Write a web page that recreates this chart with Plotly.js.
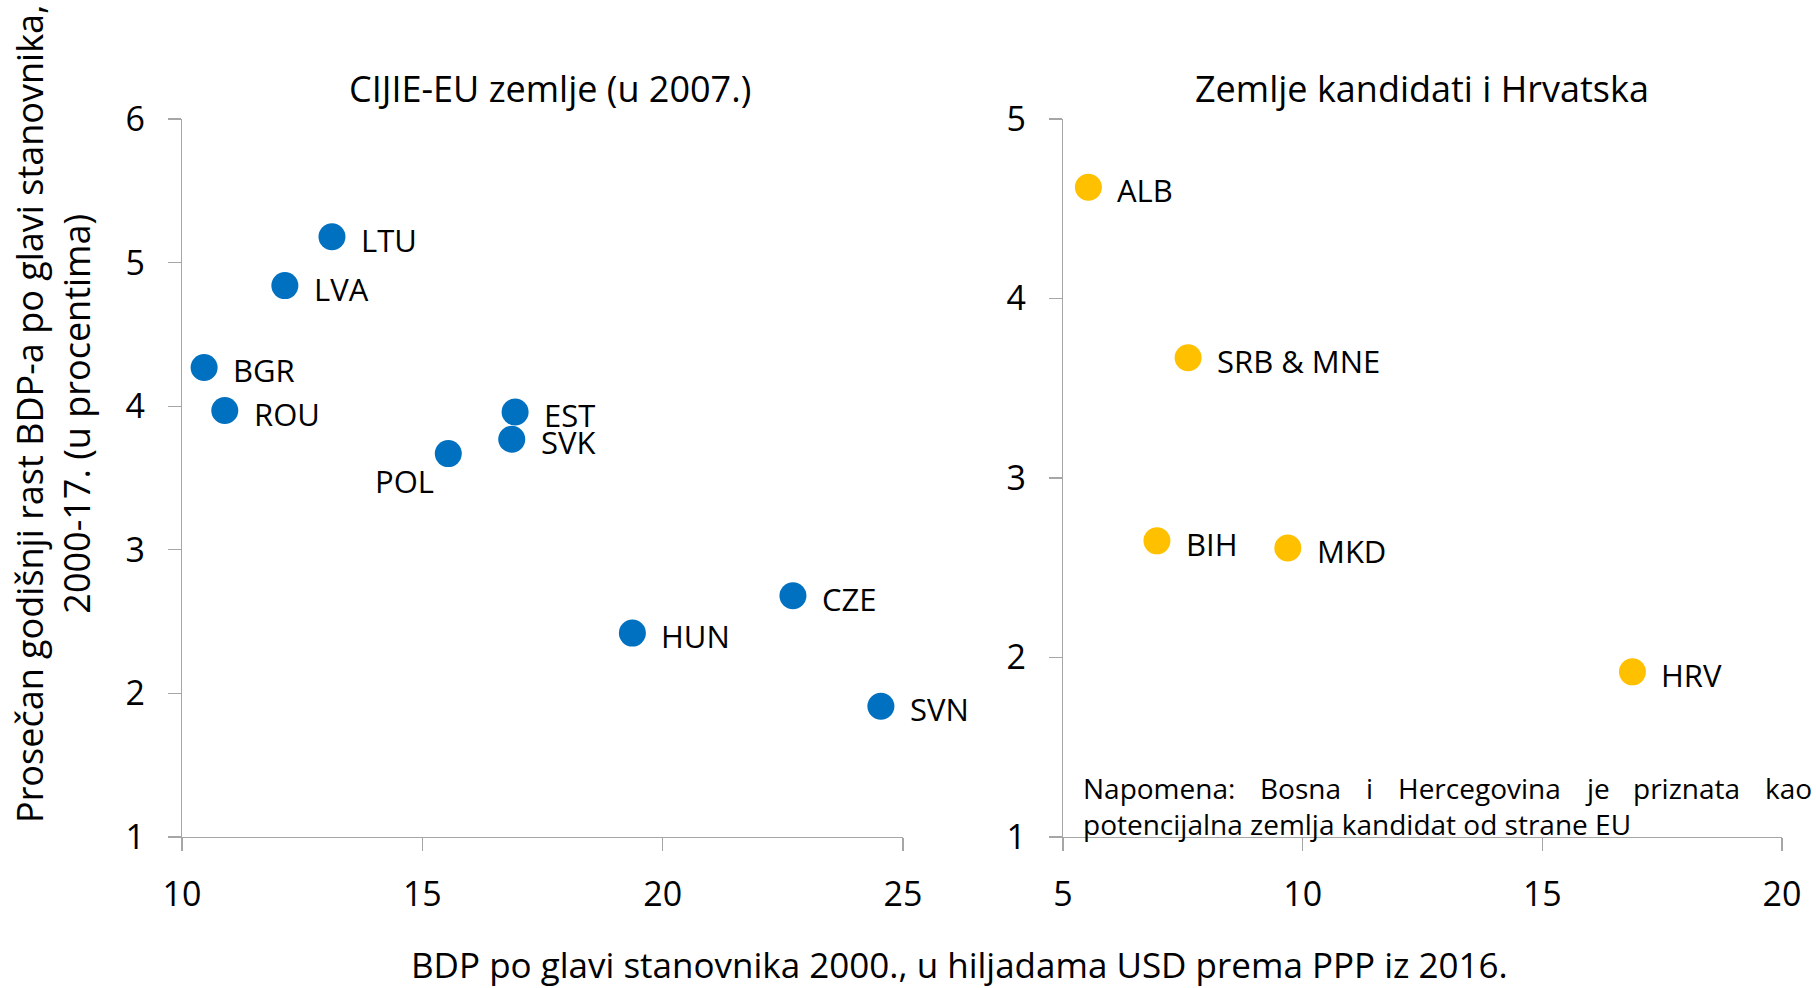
<!DOCTYPE html>
<html>
<head>
<meta charset="utf-8">
<script src="https://cdn.plot.ly/plotly-3.0.1.min.js"></script>
<style>html,body{margin:0;padding:0;background:#fff;}#chart{width:1816px;height:988px;}</style>
</head>
<body>
<div id="chart"></div>
<script>
// Left panel: CEE-EU countries (joined by 2007)
const euCountries = ['LTU','LVA','BGR','ROU','EST','SVK','POL','CZE','HUN','SVN'];
const euGdp2000   = [13.12, 12.14, 10.46, 10.89, 16.93, 16.86, 15.54, 22.71, 19.37, 24.54];
const euGrowth    = [5.18, 4.84, 4.27, 3.97, 3.96, 3.77, 3.67, 2.68, 2.42, 1.91];

// Right panel: candidate countries and Croatia
const candCountries = ['ALB','SRB & MNE','BIH','MKD','HRV'];
const candGdp2000   = [5.53, 7.61, 6.96, 9.69, 16.88];
const candGrowth    = [4.62, 3.67, 2.65, 2.61, 1.92];

// Tick values
const leftXTicks  = [10, 15, 20, 25];
const leftYTicks  = [1, 2, 3, 4, 5, 6];
const rightXTicks = [5, 10, 15, 20];
const rightYTicks = [1, 2, 3, 4, 5];

// Note text (first line justified in the original)
const noteLine1 = 'Napomena: Bosna i Hercegovina je priznata kao';
const noteLine2 = 'potencijalna zemlja kandidat od strane EU';

const FONT = '"Open Sans", "Noto Sans", sans-serif';
const W = 1816, H = 988;
const px = v => v / W;
const py = v => 1 - v / H;

const traces = [
  {x: euGdp2000, y: euGrowth, type: 'scatter', mode: 'markers', xaxis: 'x', yaxis: 'y',
   marker: {color: '#0070C0', size: 27}, hoverinfo: 'skip'},
  {x: candGdp2000, y: candGrowth, type: 'scatter', mode: 'markers', xaxis: 'x2', yaxis: 'y2',
   marker: {color: '#FFC000', size: 27}, hoverinfo: 'skip'}
];

const axisCommon = {
  showline: true, linecolor: '#a6a6a6', linewidth: 1.3,
  ticks: 'outside', ticklen: 13, tickcolor: '#a6a6a6', tickwidth: 1.3,
  showgrid: false, zeroline: false, fixedrange: true,
  tickfont: {family: FONT, size: 34, color: '#000'}, automargin: false
};

const annotations = [];
const labelFont = {family: FONT, size: 31, color: '#000'};
euCountries.forEach((c, i) => {
  if (c === 'POL') {
    annotations.push({x: euGdp2000[i], y: euGrowth[i], xref: 'x', yref: 'y', text: c,
      showarrow: false, xanchor: 'right', yanchor: 'middle', xshift: -12, yshift: -27, font: labelFont});
  } else {
    annotations.push({x: euGdp2000[i], y: euGrowth[i], xref: 'x', yref: 'y', text: c,
      showarrow: false, xanchor: 'left', yanchor: 'middle', xshift: 27, yshift: -3, font: labelFont});
  }
});
candCountries.forEach((c, i) => {
  annotations.push({x: candGdp2000[i], y: candGrowth[i], xref: 'x2', yref: 'y2', text: c,
    showarrow: false, xanchor: 'left', yanchor: 'middle', xshift: 27, yshift: -3, font: labelFont});
});

// Panel titles
const titleFont = {family: FONT, size: 36, color: '#000'};
annotations.push({xref: 'paper', yref: 'paper', x: px(550), y: py(89), text: 'CIJIE-EU zemlje (u 2007.)',
  showarrow: false, xanchor: 'center', yanchor: 'middle', font: titleFont});
annotations.push({xref: 'paper', yref: 'paper', x: px(1422), y: py(89), text: 'Zemlje kandidati i Hrvatska',
  showarrow: false, xanchor: 'center', yanchor: 'middle', font: titleFont});

// Axis titles
annotations.push({xref: 'paper', yref: 'paper', x: px(959), y: py(964),
  text: 'BDP po glavi stanovnika 2000., u hiljadama USD prema PPP iz 2016.',
  showarrow: false, xanchor: 'center', yanchor: 'middle', font: {family: FONT, size: 35, color: '#000'}});
annotations.push({xref: 'paper', yref: 'paper', x: px(53), y: py(414), textangle: -90,
  text: 'Prosečan godišnji rast BDP-a po glavi stanovnika,<br>2000-17. (u procentima)',
  showarrow: false, xanchor: 'center', yanchor: 'middle', font: titleFont});

// Note: justify first line between left and right edges using measured word widths
const NOTE_SIZE = 28;
const noteFont = {family: FONT, size: NOTE_SIZE, color: '#000'};
const noteLeft = 1083, noteRight = 1812;
const ctx = document.createElement('canvas').getContext('2d');
ctx.font = NOTE_SIZE + 'px "Open Sans", "Noto Sans", sans-serif';
const words = noteLine1.split(' ');
const widths = words.map(w => ctx.measureText(w).width);
const totalW = widths.reduce((a, b) => a + b, 0);
const gap = (noteRight - noteLeft - totalW) / (words.length - 1);
let cursor = noteLeft;
words.forEach((w, i) => {
  annotations.push({xref: 'paper', yref: 'paper', x: px(cursor), y: py(788), text: w,
    showarrow: false, xanchor: 'left', yanchor: 'middle', font: noteFont, borderpad: 0, borderwidth: 0});
  cursor += widths[i] + gap;
});
annotations.push({xref: 'paper', yref: 'paper', x: px(noteLeft), y: py(824), text: noteLine2,
  showarrow: false, xanchor: 'left', yanchor: 'middle', font: noteFont, borderpad: 0, borderwidth: 0});

const layout = {
  width: W, height: H,
  margin: {l: 0, r: 0, t: 0, b: 0},
  paper_bgcolor: '#fff', plot_bgcolor: 'rgba(0,0,0,0)',
  showlegend: false,
  font: {family: FONT, color: '#000'},
  xaxis: Object.assign({}, axisCommon, {domain: [px(182), px(903)], range: [10, 25],
    tickvals: leftXTicks, anchor: 'y', ticklabelstandoff: 14}),
  yaxis: Object.assign({}, axisCommon, {domain: [py(837), py(119)], range: [1, 6],
    tickvals: leftYTicks, anchor: 'x', ticklabelstandoff: 16}),
  xaxis2: Object.assign({}, axisCommon, {domain: [px(1063), px(1782)], range: [5, 20],
    tickvals: rightXTicks, anchor: 'y2', ticklabelstandoff: 14}),
  yaxis2: Object.assign({}, axisCommon, {domain: [py(837), py(119)], range: [1, 5],
    tickvals: rightYTicks, anchor: 'x2', ticklabelstandoff: 16}),
  annotations: annotations
};

Plotly.newPlot('chart', traces, layout, {displayModeBar: false, staticPlot: true});
</script>
</body>
</html>
